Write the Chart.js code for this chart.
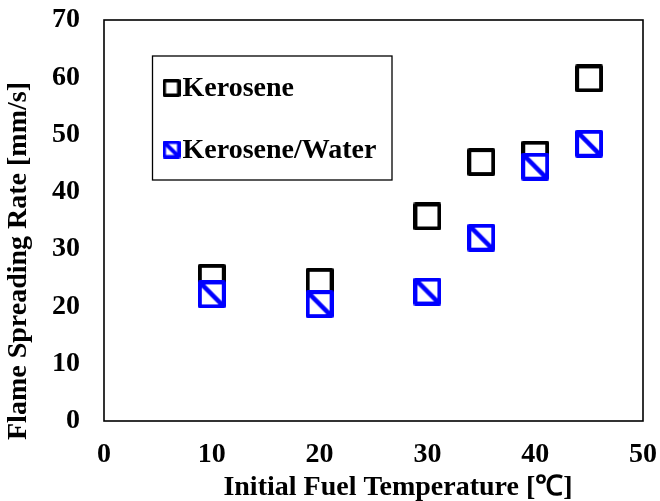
<!DOCTYPE html>
<html><head><meta charset="utf-8">
<script src="https://cdn.jsdelivr.net/npm/chart.js@4/dist/chart.umd.min.js"></script>
<style>html,body{margin:0;padding:0;background:#fff}#wrap{width:660px;height:501px;position:relative}canvas{display:block}</style>
</head><body><div id="wrap"><canvas id="c" width="660" height="501" style="width:660px;height:501px"></canvas></div>
<script>
// ---- data ----
const temperatures = [10, 20, 30, 35, 40, 45];
const keroseneRate = [25.0, 24.3, 35.7, 45.2, 46.5, 59.8];
const keroseneWaterRate = [22.1, 20.4, 22.6, 32.0, 44.4, 48.4];
const seriesNames = ['Kerosene', 'Kerosene/Water'];
const xTicks = [0, 10, 20, 30, 40, 50];
const yTicks = [0, 10, 20, 30, 40, 50, 60, 70];
const xTitle = 'Initial Fuel Temperature [\u2103]';
const yTitle = 'Flame Spreading Rate [mm/s]';

// ---- marker images ----
function squareMarker(size, lw, color, diag, diagW) {
  const c = document.createElement('canvas');
  c.width = c.height = size;
  const g = c.getContext('2d');
  const h = lw / 2;
  g.fillStyle = '#fff';
  g.fillRect(h, h, size - lw, size - lw);
  g.strokeStyle = color; g.lineWidth = lw; g.lineJoin = 'round';
  g.strokeRect(h, h, size - lw, size - lw);
  if (diag) {
    g.beginPath(); g.moveTo(lw * 0.8, lw * 0.8); g.lineTo(size - lw * 0.8, size - lw * 0.8);
    g.lineWidth = diagW; g.stroke();
  }
  return c;
}
const BLUE = '#0000ff';
const kMarker = squareMarker(28, 4, '#000', false, 0);
const wMarker = squareMarker(28, 4, BLUE, true, 4.5);
const kLegend = squareMarker(18, 3.5, '#000', false, 0);
const wLegend = squareMarker(18, 3.5, BLUE, true, 4);

const FONT = "'Liberation Serif', 'Times New Roman', serif";

const framePlugin = {
  id: 'frame',
  afterDraw(chart) {
    const {ctx, chartArea: a} = chart;
    ctx.save();
    ctx.strokeStyle = '#000';
    ctx.lineWidth = 1.6;
    ctx.strokeRect(a.left, a.top, a.right - a.left, a.bottom - a.top);
    // legend
    const lx = a.left + 48.5, ly = a.top + 36, lw = 239.5, lh = 124;
    ctx.lineWidth = 1.3;
    ctx.fillStyle = '#fff';
    ctx.fillRect(lx, ly, lw, lh);
    ctx.strokeRect(lx, ly, lw, lh);
    const items = [[kLegend, 32], [wLegend, 93.5]];
    ctx.font = "bold 28px " + FONT;
    ctx.fillStyle = '#000';
    ctx.textBaseline = 'middle';
    ctx.textAlign = 'left';
    items.forEach((it, i) => {
      const img = it[0], cy = ly + it[1];
      ctx.drawImage(img, lx + 19 - img.width / 2, cy - img.height / 2);
      ctx.fillText(seriesNames[i], lx + 30, cy + 1);
    });
    // axis titles
    ctx.textAlign = 'center';
    ctx.fillText(xTitle, a.left + 294, 488);
    ctx.translate(19, a.top + 241);
    ctx.rotate(-Math.PI / 2);
    ctx.fillText(yTitle, 0, 0);
    ctx.restore();
  }
};

new Chart(document.getElementById('c'), {
  type: 'scatter',
  data: {
    datasets: [
      {
        label: seriesNames[0],
        data: temperatures.map((t, i) => ({x: t, y: keroseneRate[i]})),
        pointStyle: kMarker,
        order: 1
      },
      {
        label: seriesNames[1],
        data: temperatures.map((t, i) => ({x: t, y: keroseneWaterRate[i]})),
        pointStyle: wMarker,
        order: 0
      }
    ]
  },
  options: {
    responsive: false,
    animation: false,
    devicePixelRatio: 1,
    layout: {padding: 0},
    plugins: {legend: {display: false}, tooltip: {enabled: false}},
    scales: {
      x: {
        type: 'linear', min: 0, max: 50,
        afterBuildTicks: s => { s.ticks = xTicks.map(v => ({value: v})); },
        afterFit: s => { s.height = 80; s.paddingLeft = 0; s.paddingRight = 17; },
        grid: {display: false, drawTicks: false},
        border: {display: false},
        ticks: {color: '#000', padding: 17, font: {family: FONT, size: 28, weight: 'bold'}, maxRotation: 0},
        title: {display: false, text: xTitle}
      },
      y: {
        type: 'linear', min: 0, max: 70,
        afterBuildTicks: s => { s.ticks = yTicks.map(v => ({value: v})); },
        afterFit: s => { s.width = 104; s.paddingTop = 20; s.paddingBottom = 0; },
        grid: {display: false, drawTicks: false},
        border: {display: false},
        ticks: {color: '#000', padding: 24, font: {family: FONT, size: 28, weight: 'bold'}},
        title: {display: false, text: yTitle}
      }
    }
  },
  plugins: [framePlugin]
});
</script>
</body></html>
